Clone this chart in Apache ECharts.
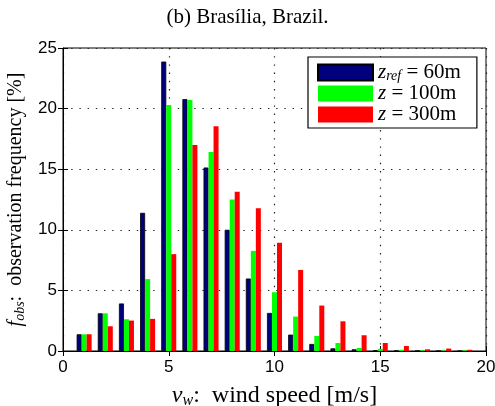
<!DOCTYPE html>
<html>
<head>
<meta charset="utf-8">
<script src="https://cdn.jsdelivr.net/npm/echarts@6/dist/echarts.min.js"></script>
<style>
  html, body { margin: 0; padding: 0; background: #fff; }
  #chart { width: 495px; height: 406px; }
</style>
</head>
<body>
<div id="chart"></div>
<script>
// Wind speed bins [m/s]
const speeds = [1, 2, 3, 4, 5, 6, 7, 8, 9, 10, 11, 12, 13, 14, 15, 16, 17, 18, 19];
// Observation frequency [%] at each height
const freqRef60 = [1.38, 3.11, 3.92, 11.4, 23.88, 20.78, 15.14, 10.0, 5.98, 3.14, 1.35, 0.58, 0.22, 0.14, 0.05, 0.02, 0.01, 0.0, 0.0];
const freq100 = [1.38, 3.11, 2.62, 5.93, 20.3, 20.7, 16.42, 12.51, 8.26, 4.85, 2.84, 1.24, 0.66, 0.25, 0.18, 0.1, 0.05, 0.05, 0.05];
const freq300 = [1.38, 2.04, 2.51, 2.65, 7.99, 17.0, 18.54, 13.14, 11.77, 8.93, 6.69, 3.75, 2.45, 1.30, 0.66, 0.41, 0.14, 0.2, 0.1];
const xTicks = [0, 5, 10, 15, 20];
const yTicks = [0, 5, 10, 15, 20, 25];

const serif = '"Liberation Serif", "DejaVu Serif", serif';
const sans = '"Liberation Sans", Arial, sans-serif';

const pairs = arr => speeds.map((s, i) => [s, arr[i]]);

const dotted = { color: '#222', width: 1.2, type: [1.4, 6.8] };

const chart = echarts.init(document.getElementById('chart'), null, { renderer: 'canvas' });

function mathRich(size) {
  return {
    it: { fontFamily: serif, fontStyle: 'italic', fontSize: size, color: '#000' },
    sub: { fontFamily: serif, fontStyle: 'italic', fontSize: Math.round(size * 0.68), color: '#000', padding: [Math.round(size * 0.45), 0, 0, 0] },
    rm: { fontFamily: serif, fontSize: size, color: '#000' }
  };
}

chart.setOption({
  animation: false,
  title: {
    text: '(b) Brasília, Brazil.',
    left: 'center',
    top: 2,
    textStyle: { fontFamily: serif, fontSize: 21, fontWeight: 'normal', color: '#000' }
  },
  grid: {
    left: 63, right: 9, top: 48, bottom: 55,
    outerBoundsMode: 'none',
    containLabel: false,
    show: true, borderColor: '#000', borderWidth: 1, backgroundColor: 'transparent'
  },
  legend: {
    orient: 'vertical',
    left: 308, top: 57,
    padding: [5, 16, 3, 9],
    itemGap: 0,
    itemWidth: 55,
    itemHeight: 16,
    borderColor: '#000', borderWidth: 1.2,
    backgroundColor: '#fff',
    selectedMode: false,
    data: [
      { name: 'ref60', icon: 'rect' },
      { name: 'z100', icon: 'rect' },
      { name: 'z300', icon: 'rect' }
    ],
    formatter: function (name) {
      if (name === 'ref60') return '{it|z}{sub|ref}{rm| = 60m}';
      if (name === 'z100') return '{it|z}{rm| = 100m}';
      return '{it|z}{rm| = 300m}';
    },
    textStyle: {
      lineHeight: 16,
      rich: {
        it: { fontFamily: serif, fontStyle: 'italic', fontSize: 21, color: '#000', lineHeight: 16 },
        sub: { fontFamily: serif, fontStyle: 'italic', fontSize: 14, color: '#000', lineHeight: 16, padding: [7, 0, 0, 0] },
        rm: { fontFamily: serif, fontSize: 21, color: '#000', lineHeight: 16 }
      }
    }
  },
  xAxis: [{
    type: 'value',
    min: 0, max: 20, interval: 5,
    position: 'bottom',
    axisLine: { show: true, lineStyle: { color: '#000', width: 1 } },
    axisTick: { show: true, inside: true, length: 5, lineStyle: { color: '#000' } },
    axisLabel: {
      fontFamily: sans, fontSize: 17, color: '#000', margin: 8,
      formatter: v => (xTicks.indexOf(v) >= 0 ? String(v) : '')
    },
    splitLine: { show: true, lineStyle: dotted },
    name: '{it|v}{sub|w}{rm|:  wind speed [m/s]}',
    nameLocation: 'middle',
    nameGap: 31,
    nameTextStyle: { rich: mathRich(24) }
  }, {
    type: 'value',
    min: 0, max: 20, interval: 5,
    position: 'top',
    axisLine: { show: false },
    axisTick: { show: true, inside: true, length: 5, lineStyle: { color: '#000' } },
    axisLabel: { show: false },
    splitLine: { show: false }
  }],
  yAxis: [{
    type: 'value',
    min: 0, max: 25, interval: 5,
    axisLine: { show: true, lineStyle: { color: '#000', width: 1 } },
    axisTick: { show: true, inside: true, length: 5, lineStyle: { color: '#000' } },
    axisLabel: {
      fontFamily: sans, fontSize: 17, color: '#000', margin: 6,
      formatter: v => (yTicks.indexOf(v) >= 0 ? String(v) : '')
    },
    splitLine: { show: true, lineStyle: dotted },
    name: '{it|f}{sub|obs}{rm|:  observation frequency [%]}',
    nameLocation: 'middle',
    nameGap: 33,
    nameTextStyle: { rich: mathRich(20) }
  }, {
    type: 'value',
    min: 0, max: 25, interval: 5,
    position: 'right',
    axisLine: { show: false },
    axisTick: { show: true, inside: true, length: 5, lineStyle: { color: '#000' } },
    axisLabel: { show: false },
    splitLine: { show: false }
  }],
  series: [
    {
      name: 'ref60', type: 'bar', xAxisIndex: 0, yAxisIndex: 0,
      data: pairs(freqRef60),
      barWidth: 5, barGap: '0%',
      itemStyle: { color: '#00007f', borderColor: '#000', borderWidth: 0.8 }
    },
    {
      name: 'z100', type: 'bar', xAxisIndex: 0, yAxisIndex: 0,
      data: pairs(freq100),
      barWidth: 5, barGap: '0%',
      itemStyle: { color: '#00ff00' }
    },
    {
      name: 'z300', type: 'bar', xAxisIndex: 0, yAxisIndex: 0,
      data: pairs(freq300),
      barWidth: 5, barGap: '0%',
      itemStyle: { color: '#ff0000' }
    }
  ]
});
</script>
</body>
</html>
